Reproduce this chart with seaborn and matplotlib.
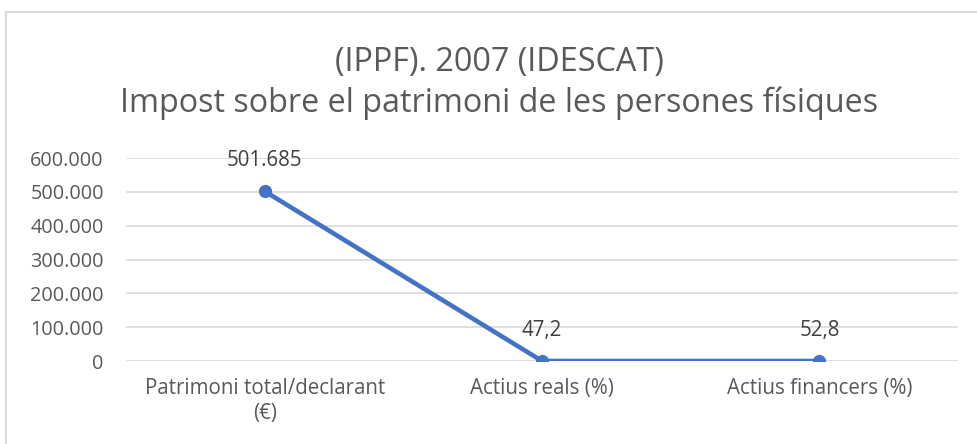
import matplotlib
matplotlib.use("Agg")
import matplotlib.pyplot as plt
import matplotlib.ticker as mticker
from matplotlib.lines import Line2D
import seaborn as sns
import pandas as pd

categories = ["Patrimoni total/declarant\n(€)", "Actius reals (%)", "Actius financers (%)"]
values = [501685, 47.2, 52.8]
value_labels = ["501.685", "47,2", "52,8"]
title_lines = ["(IPPF). 2007 (IDESCAT)", "Impost sobre el patrimoni de les persones físiques"]

sns.set_style("white")
plt.rcParams["font.family"] = ["Open Sans", "DejaVu Sans"]

df = pd.DataFrame({"categoria": categories, "valor": values})

fig = plt.figure(figsize=(9.77, 4.44), dpi=100)
ax = fig.add_axes([126 / 977, 1 - 361 / 444, 832 / 977, 203 / 444])

sns.lineplot(data=df, x="categoria", y="valor", ax=ax, color="#4472c4",
             linewidth=3.3, marker="o", markersize=9.5, markeredgewidth=0,
             sort=False)

ax.set_xlim(-0.5, 2.5)
ax.set_ylim(0, 600000)
ax.yaxis.set_major_locator(mticker.MultipleLocator(100000))
ax.yaxis.set_major_formatter(mticker.FuncFormatter(lambda v, p: f"{int(v):,}".replace(",", ".")))
ax.grid(axis="y", color="#d9d9d9", linewidth=1.2)
ax.set_axisbelow(True)
for s in ax.spines.values():
    s.set_visible(False)
ax.set_xlabel("")
ax.set_ylabel("")
ax.tick_params(axis="y", length=0, labelsize=14.3, colors="#595959", pad=16)
ax.tick_params(axis="x", length=0, labelsize=14.8, colors="#595959", pad=12)
for t in ax.get_xticklabels():
    t.set_multialignment("center")
    t.set_linespacing(1.3)

for i, (v, lab) in enumerate(zip(values, value_labels)):
    ax.annotate(lab, (i, v), xytext=(0, 18), textcoords="offset points",
                ha="center", va="baseline", fontsize=14.8, color="#404040")

fig.text(499 / 977, 1 - 62 / 444, title_lines[0], ha="center", va="center",
         fontsize=23.3, color="#595959")
fig.text(499 / 977, 1 - 103 / 444, title_lines[1], ha="center", va="center",
         fontsize=23.3, color="#595959")

fig.add_artist(Line2D([6 / 977, 1], [1 - 12.5 / 444] * 2, transform=fig.transFigure,
                      color="#d9d9d9", linewidth=1.5))
fig.add_artist(Line2D([6 / 977] * 2, [0, 1 - 12.5 / 444], transform=fig.transFigure,
                      color="#d9d9d9", linewidth=1.5))

fig.savefig("out.png", dpi=100)
